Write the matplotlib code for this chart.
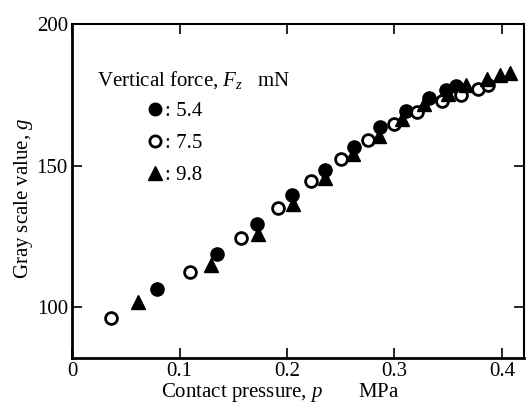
import matplotlib
matplotlib.use("Agg")
import matplotlib.pyplot as plt

plt.rcParams["font.family"] = "Liberation Serif"
plt.rcParams["mathtext.fontset"] = "custom"
plt.rcParams["mathtext.rm"] = "Liberation Serif"
plt.rcParams["mathtext.it"] = "Liberation Serif:italic"

# Vertical force 5.4 mN (filled circles)
p_54 = [0.079, 0.135, 0.172, 0.205, 0.235, 0.262, 0.287, 0.311, 0.332, 0.348, 0.357]
g_54 = [106.6, 118.7, 129.4, 139.5, 148.5, 156.6, 163.7, 169.2, 173.8, 176.8, 178.0]

# Vertical force 7.5 mN (open circles)
p_75 = [0.036, 0.110, 0.157, 0.192, 0.222, 0.250, 0.275, 0.300, 0.321, 0.344, 0.362, 0.378, 0.387]
g_75 = [96.3, 112.3, 124.4, 135.1, 144.5, 152.5, 159.2, 164.7, 169.1, 172.9, 175.0, 177.1, 178.6]

# Vertical force 9.8 mN (triangles)
p_98 = [0.061, 0.129, 0.173, 0.206, 0.235, 0.261, 0.286, 0.307, 0.328, 0.350, 0.367, 0.386, 0.398, 0.408]
g_98 = [101.9, 114.9, 125.8, 136.5, 145.7, 154.0, 160.5, 166.5, 171.8, 175.4, 178.6, 180.7, 182.2, 182.9]

labels = [": 5.4", ": 7.5", ": 9.8"]

fig = plt.figure(figsize=(5.26, 4.03), dpi=100)
ax = fig.add_axes([0.137, 0.111, 0.860, 0.829])

h1, = ax.plot(p_54, g_54, "o", color="black", ms=9.5, ls="none")
h2, = ax.plot(p_75, g_75, "o", mfc="white", mec="black", mew=2.0, ms=8.5, ls="none")
h3, = ax.plot(p_98, g_98, "^", color="black", ms=10, ls="none")

ax.set_xlim(0, 0.421)
ax.set_ylim(82, 200)
ax.set_xticks([0, 0.1, 0.2, 0.3, 0.4])
ax.set_xticklabels(["0", "0.1", "0.2", "0.3", "0.4"])
ax.set_yticks([100, 150, 200])
ax.tick_params(direction="in", length=7, width=1.2, top=True, right=True,
               labelsize=15, pad=3)
for side in ["left", "bottom"]:
    ax.spines[side].set_linewidth(2.0)
for side in ["top", "right"]:
    ax.spines[side].set_linewidth(1.5)

ax.set_xlabel("Contact pressure, $p$       MPa", fontsize=15, labelpad=0)
ax.xaxis.label.set_x(0.46)
ax.set_ylabel("Gray scale value, $g$", fontsize=15, labelpad=1)
ax.yaxis.label.set_y(0.48)

ax.text(0.055, 0.833, "Vertical force, $F_z$   mN", transform=ax.transAxes,
        fontsize=15, va="center", ha="left")
ax.legend([h1, h2, h3], labels, loc="upper left", bbox_to_anchor=(0.142, 0.80),
          frameon=False, fontsize=15, handlelength=0.8, handletextpad=0.1,
          labelspacing=0.6, markerscale=0.95, borderpad=0)

fig.savefig("out.png", dpi=100)
